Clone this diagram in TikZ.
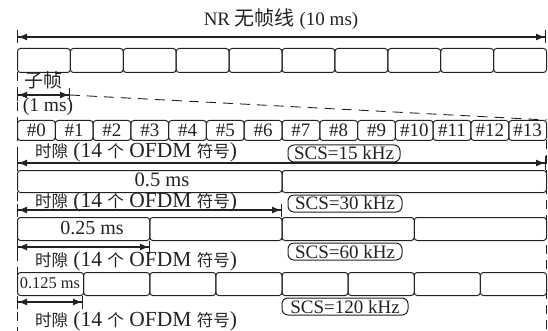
\documentclass[tikz,border=0pt]{standalone}
\usepackage{fontspec}
\setmainfont{Liberation Serif}
\newfontfamily\cjk{Noto Sans CJK SC}
\usetikzlibrary{arrows.meta}
\definecolor{ink}{HTML}{222222}
\newcommand\zh[2]{{\fontsize{#1}{#1}\selectfont\cjk #2}}
\newcommand\lt[1]{\fontsize{#1}{#1}\selectfont}
\newcommand\slotlabel{\zh{16.5}{时隙} (14 \zh{16.5}{个} OFDM \zh{16.5}{符号})}
\begin{document}
\begin{tikzpicture}[x=1pt,y=-1pt,
  every node/.style={text=ink, inner sep=0pt},
  cell/.style={draw=ink, line width=1pt, rounded corners=3pt, anchor=north west},
  scsbox/.style={draw=ink, line width=1pt, rounded corners=6pt, minimum height=17pt, font={\lt{19}}},
  dimarrow/.style={draw=ink, line width=1.3pt, arrows={Bar[width=13pt,line width=1pt]Latex[length=9pt,width=7pt]-Latex[length=9pt,width=7pt]Bar[width=13pt,line width=1pt]}},
  guide/.style={draw=ink, line width=0.9pt, dash pattern=on 9pt off 6pt},
  lbl/.style={font={\lt{21.5}}}
]
\useasboundingbox (0,0) rectangle (548,331);

% title
\node[font={\lt{19}}] (title) at (281,19) {NR \zh{20}{无帧线} (10 ms)};
\coordinate (ta) at (17,37);
\coordinate (tb) at (546,37);
\draw[dimarrow] (ta) -- (tb);

% frame: 10 subframes
\foreach \i in {0,...,9}
  \node[cell, minimum width=52.9pt, minimum height=24pt] (f\i) at ({17+52.9*\i},48) {};

% guides
\coordinate (gl1) at (17,72);
\coordinate (gl2) at (17,331);
\coordinate (gr1) at (546,140);
\coordinate (gr2) at (546,331);
\draw[guide] (gl1) -- (gl2);
\draw[guide] (gr1) -- (gr2);

% subframe
\node (zf) at (43,80) {\zh{19}{子帧}};
\coordinate (sfa) at (17,95);
\coordinate (sfb) at (70,95);
\draw[dimarrow] (sfa) -- (sfb);
\node[font={\lt{19.5}}] (onems) at (48,107) {(1 ms)};

% slots
\foreach \i in {0,...,13}
  \node[cell, minimum width=37.79pt, minimum height=20pt, font={\lt{19}}] (s\i) at ({17+37.79*\i},120) {\#\i};
\draw[guide, dash pattern=on 10pt off 7pt] (sfb) -- (s13.north east);

% 15 kHz
\node[lbl] (l1) at (136,152) {\slotlabel};
\node[scsbox, minimum width=112pt] (scs15) at (344,153.5) {SCS=15 kHz};
\coordinate (a1a) at (17,163);
\coordinate (a1b) at (546,163);
\draw[dimarrow] (a1a) -- (a1b);

% 30 kHz
\foreach \i in {0,1}
  \node[cell, minimum width=264.5pt, minimum height=22pt] (r\i) at ({17+264.5*\i},170) {};
\node[font={\lt{20.5}}] (t05) at (162,180) {0.5 ms};
\node[lbl] (l2) at (136,202) {\slotlabel};
\node[scsbox, minimum width=114pt] (scs30) at (345,203.5) {SCS=30 kHz};
\coordinate (a2a) at (17,210);
\coordinate (a2b) at (282,210);
\draw[dimarrow] (a2a) -- (a2b);

% 60 kHz
\foreach \i in {0,...,3}
  \node[cell, minimum width=132.25pt, minimum height=23pt] (q\i) at ({17+132.25*\i},217) {};
\node[font={\lt{20}}] (t025) at (92,228) {0.25 ms};
\coordinate (a3a) at (17,247);
\coordinate (a3b) at (150,247);
\draw[dimarrow] (a3a) -- (a3b);
\node[scsbox, minimum width=114pt] (scs60) at (345,251.5) {SCS=60 kHz};
\node[lbl] (l3) at (136,261) {\slotlabel};

% 120 kHz
\foreach \i in {0,...,7}
  \node[cell, minimum width=66.125pt, minimum height=23pt] (e\i) at ({17+66.125*\i},272) {};
\node[font={\lt{16.4}}] (t0125) at (50,283) {0.125 ms};
\coordinate (a4a) at (17,302);
\coordinate (a4b) at (83,302);
\draw[dimarrow] (a4a) -- (a4b);
\node[scsbox, minimum width=126pt] (scs120) at (345,306.5) {SCS=120 kHz};
\node[lbl] (l4) at (136,321) {\slotlabel};
\end{tikzpicture}
\end{document}
